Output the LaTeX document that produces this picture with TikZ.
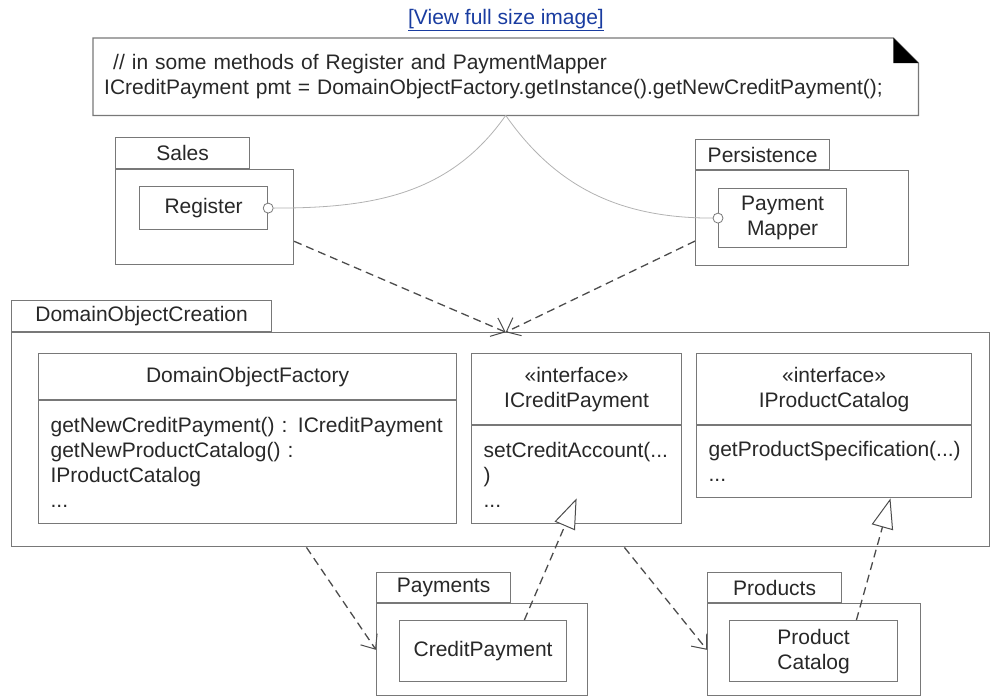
\documentclass[tikz,border=0pt]{standalone}
\usepackage{fontspec}
\setmainfont{Liberation Sans}
\usepackage{tikz}
\usetikzlibrary{arrows.meta, positioning}
\definecolor{lineGray}{RGB}{120,120,120}
\definecolor{textGray}{RGB}{40,40,40}
\definecolor{linkBlue}{RGB}{25,60,160}

\begin{document}
\begin{tikzpicture}[
    x=1pt, y=-1pt,
    font=\fontsize{21}{25}\selectfont, text=textGray,
    box/.style={rectangle, draw=lineGray, line width=1.2pt, fill=white, anchor=north west, inner sep=0pt, align=center},
    member/.style={box, align=left, inner xsep=12pt},
    notebox/.style={rectangle, anchor=north west, align=left, inner xsep=11pt, inner ysep=0pt},
    port/.style={circle, draw=lineGray, line width=0.8pt, fill=white, inner sep=0pt, minimum size=10pt},
    wire/.style={draw=gray!60, line width=0.8pt},
    dep/.style={draw=black!70, line width=1.3pt, dash pattern=on 8pt off 5pt, -{Straight Barb[length=12pt, width=20pt, line width=1pt]}},
    realize/.style={draw=black!70, line width=1.3pt, dash pattern=on 8pt off 5pt, -{Triangle[length=30pt, width=22pt, fill=white, line width=1pt]}}
]
    \useasboundingbox (0,0) rectangle (991,696);

    % Link and note
    \node (link) [text=linkBlue] at (506,20) {\underline{[View full size image]}};
    \node (note) [notebox, minimum width=825pt, minimum height=77pt, text width=803pt] at (93,38)
        {\hspace*{9pt}// in some methods of Register and PaymentMapper\\ICreditPayment pmt = DomainObjectFactory.getInstance().getNewCreditPayment();};
    \draw [draw=lineGray, line width=1.2pt] (note.north west) -- ([xshift=-25pt]note.north east) -- ([yshift=-25pt]note.north east) -- (note.south east) -- (note.south west) -- cycle;
    \fill [black] ([xshift=-25pt]note.north east) -- ([yshift=-25pt]note.north east) -- ([xshift=-25pt, yshift=-25pt]note.north east) -- cycle;

    % Packages
    \node (salestab) [box, minimum width=134pt, minimum height=31pt] at (115,137) {Sales};
    \node (salesbody) [box, minimum width=178pt, minimum height=95pt] at (salestab.south west) {};
    \node (perstab) [box, minimum width=134pt, minimum height=30pt] at (695,139) {Persistence};
    \node (persbody) [box, minimum width=213pt, minimum height=95pt] at (perstab.south west) {};
    \node (doctab) [box, minimum width=260pt, minimum height=31pt] at (11,300) {DomainObjectCreation};
    \node (docbody) [box, minimum width=978pt, minimum height=214pt] at (doctab.south west) {};
    \node (paytab) [box, minimum width=134pt, minimum height=30pt] at (376,572) {Payments};
    \node (paybody) [box, minimum width=211pt, minimum height=92pt] at (paytab.south west) {};
    \node (prodtab) [box, minimum width=134pt, minimum height=30pt] at (707,572) {Products};
    \node (prodbody) [box, minimum width=213pt, minimum height=92pt] at (prodtab.south west) {};

    % Classes
    \node (register) [box, minimum width=128pt, minimum height=43pt] at (139,186) {Register};
    \node (mapper) [box, minimum width=128pt, minimum height=59pt] at (718,188) {Payment\\Mapper};
    \node (creditpay) [box, minimum width=167pt, minimum height=61pt] at (399,620) {CreditPayment};
    \node (prodcat) [box, minimum width=168pt, minimum height=61pt] at (729,620) {Product\\Catalog};

    \node (doftitle) [box, minimum width=418pt, minimum height=46pt] at (38,353) {DomainObjectFactory};
    \node (dofbody) [member, text width=394pt, minimum height=123pt] at (doftitle.south west)
        {getNewCreditPayment() : ICreditPayment\\getNewProductCatalog() :\\IProductCatalog\\...};
    \node (icptitle) [box, minimum width=210pt, minimum height=71pt] at (471,353) {«interface»\\ICreditPayment};
    \node (icpbody) [member, text width=186pt, minimum height=98pt] at (icptitle.south west)
        {setCreditAccount(...\\)\\...};
    \node (ipctitle) [box, minimum width=275pt, minimum height=71pt] at (696,353) {«interface»\\IProductCatalog};
    \node (ipcbody) [member, text width=251pt, minimum height=72pt] at (ipctitle.south west)
        {getProductSpecification(...)\\...};

    % Ports
    \node (regport) [port] at (register.east) {};
    \node (mapport) [port] at (mapper.west) {};

    % Connections
    \draw [wire] (note.south) to[out=-125, in=0] (regport);
    \draw [wire] (note.south) to[out=-55, in=180] (mapport);
    \draw [dep] (salesbody.-15) -- (docbody.north -| note.south);
    \draw [dep] (persbody.192) -- (docbody.north -| note.south);
    \draw [dep] (docbody.209) -- (paybody.west);
    \draw [dep] (docbody.319) -- (prodbody.west);
    \draw [realize] (creditpay.37) -- (icptitle.south |- ipcbody.south);
    \draw [realize] (prodcat.36) -- (ipcbody.327);
\end{tikzpicture}
\end{document}
